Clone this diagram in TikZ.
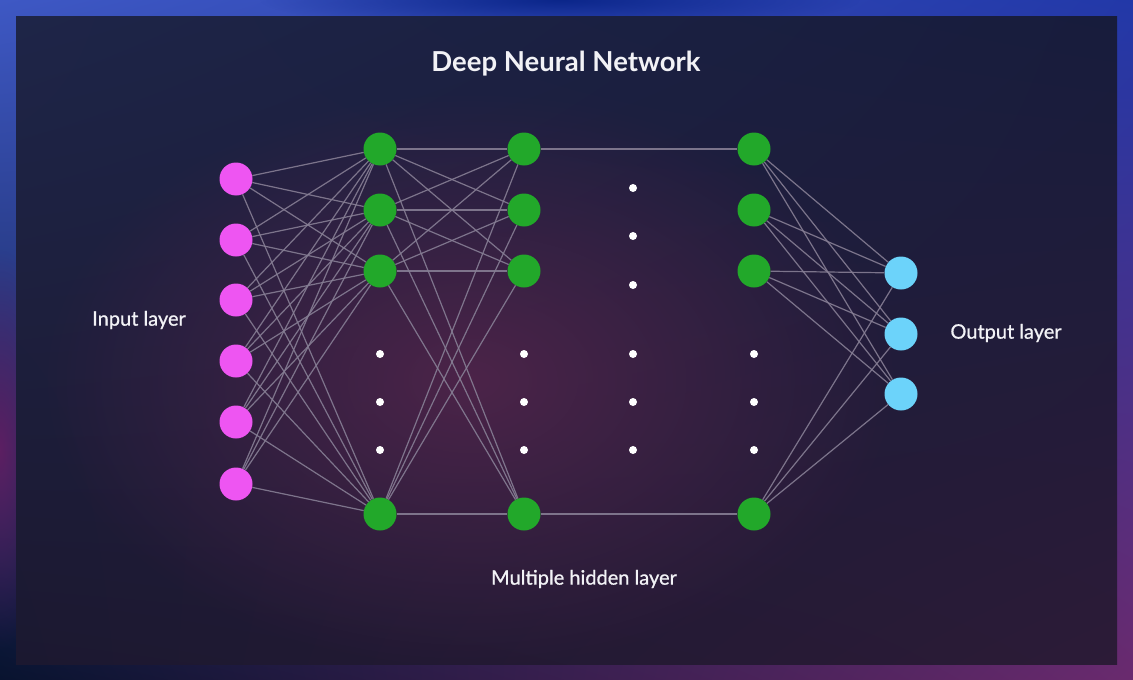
\documentclass[tikz,border=0pt]{standalone}
\usepackage{fontspec}
\setmainfont{Lato}
\newfontfamily\labelfont{Lato}[FakeBold=0.8]
\usetikzlibrary{fadings, shadings}
\definecolor{frameTL}{HTML}{3E58C4}
\definecolor{frameTR}{HTML}{2238A8}
\definecolor{frameBL}{HTML}{08132F}
\definecolor{frameBR}{HTML}{6A2A6E}
\definecolor{frameMid}{HTML}{5C1F62}
\definecolor{frameTop}{HTML}{0B268A}
\definecolor{panelTL}{HTML}{1E2548}
\definecolor{panelTR}{HTML}{171C3C}
\definecolor{panelBL}{HTML}{1B1830}
\definecolor{panelBR}{HTML}{2C1B37}
\definecolor{glowPurple}{HTML}{4C2449}
\definecolor{inPink}{HTML}{EE55F2}
\definecolor{hidGreen}{HTML}{22A82A}
\definecolor{outBlue}{HTML}{6CD3FA}
\definecolor{linkGray}{HTML}{867E94}
\definecolor{textWhite}{HTML}{F2F2F6}

\tikzfading[name=glowfade, inner color=transparent!0, outer color=transparent!100]

\tikzset{
  neuron/.style={circle, minimum size=33pt, inner sep=0pt},
  inNode/.style={neuron, fill=inPink},
  hidNode/.style={neuron, fill=hidGreen},
  outNode/.style={neuron, fill=outBlue},
  link/.style={linkGray, line width=1.2pt, opacity=0.9},
  label/.style={text=textWhite, font=\labelfont\fontsize{20}{23}\selectfont},
}

\begin{document}
\begin{tikzpicture}[x=1pt, y=-1pt]
        \useasboundingbox (0,0) rectangle (1133,680);
        % background
        \begin{scope}
          \clip (0,0) rectangle (1133,680);
          \shade[upper left=frameTL, upper right=frameTR, lower left=frameBL, lower right=frameBR] (0,0) rectangle (1133,680);
          \fill[frameMid, path fading=glowfade] (0,450) ellipse (60 and 200);
          \fill[frameTop, path fading=glowfade] (560,0) ellipse (300 and 30);
        \end{scope}
        \shade[upper left=panelTL, upper right=panelTR, lower left=panelBL, lower right=panelBR] (16,16) rectangle (1117,664);
        \begin{scope}
          \clip (16,16) rectangle (1117,664);
          \fill[glowPurple, path fading=glowfade] (470,380) ellipse (430 and 290);
        \end{scope}

        \node[text=textWhite, font=\bfseries\fontsize{27.5}{32}\selectfont] (title) at (566,64) {Deep Neural Network};

        % layers
        \foreach \i/\y in {1/179, 2/240, 3/300, 4/361, 5/422, 6/484}
          \node[inNode] (in\i) at (236,\y) {};
        \foreach \i/\y in {1/149, 2/210, 3/271, 4/514} {
          \node[hidNode] (ha\i) at (380,\y) {};
          \node[hidNode] (hb\i) at (524,\y) {};
          \node[hidNode] (hc\i) at (754,\y) {};
        }
        \foreach \i/\y in {1/273, 2/334, 3/394}
          \node[outNode] (out\i) at (901,\y) {};

        \foreach \i in {1,...,6}
          \foreach \j in {1,...,4}
            \draw[link] (in\i) -- (ha\j);
        \foreach \i in {1,...,4}
          \foreach \j in {1,...,4}
            \draw[link] (ha\i) -- (hb\j);
        \draw[link] (hb1) -- (hc1);
        \draw[link] (hb4) -- (hc4);
        \foreach \i in {1,...,4}
          \foreach \j in {1,...,3}
            \draw[link] (hc\i) -- (out\j);

        % dots
        \foreach \x in {380, 524, 633, 754}
          \foreach \y in {354, 402, 450}
            \fill[white] (\x,\y) circle (4pt);
        \foreach \y in {188, 236, 285}
          \fill[white] (633,\y) circle (4pt);

        \node[label] (inLabel) at (139,320) {Input layer};
        \node[label] (outLabel) at (1006,333) {Output layer};
        \node[label] (hidLabel) at (584,579) {Multiple hidden layer};
      \end{tikzpicture}
\end{document}
